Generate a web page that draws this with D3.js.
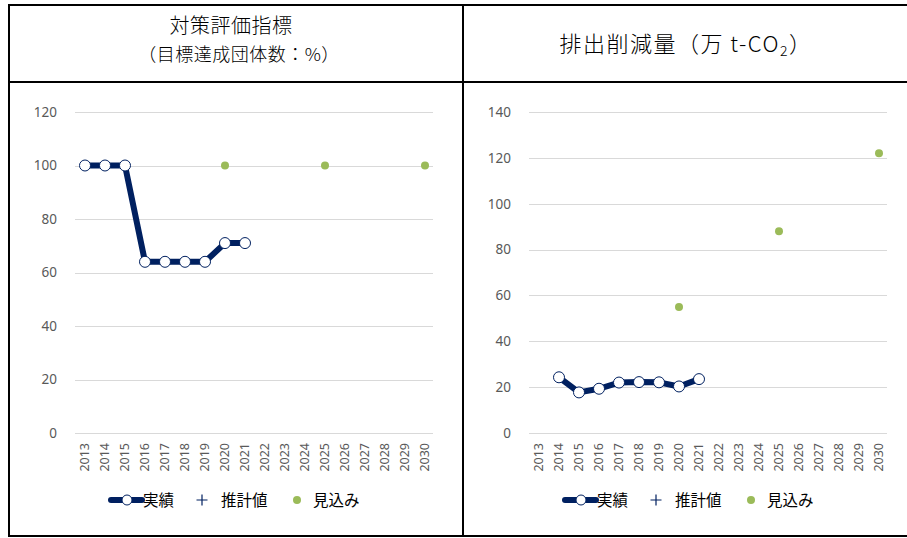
<!DOCTYPE html>
<html>
<head>
<meta charset="utf-8">
<script src="https://cdn.jsdelivr.net/npm/d3@7"></script>
<style>
  html, body { margin: 0; padding: 0; background: #fff; }
  svg { display: block; }
</style>
</head>
<body>
<svg id="chart" width="907" height="538"></svg>
<script>
// Shared category axis (fiscal years)
const years = ["2013","2014","2015","2016","2017","2018","2019","2020","2021","2022","2023","2024","2025","2026","2027","2028","2029","2030"];

// Left panel: 対策評価指標（目標達成団体数：%）
const leftTicks = [0, 20, 40, 60, 80, 100, 120];
const leftActualYears = ["2013","2014","2015","2016","2017","2018","2019","2020","2021"];
const leftActual = [100, 100, 100, 64, 64, 64, 64, 71, 71];
const leftOutlookYears = ["2020","2025","2030"];
const leftOutlook = [100, 100, 100];

// Right panel: 排出削減量（万 t-CO2）
const rightTicks = [0, 20, 40, 60, 80, 100, 120, 140];
const rightActualYears = ["2014","2015","2016","2017","2018","2019","2020","2021"];
const rightActual = [24.3, 17.7, 19.3, 22.0, 22.2, 22.1, 20.3, 23.5];
const rightOutlookYears = ["2020","2025","2030"];
const rightOutlook = [55, 88, 122];

const legendLabels = ["実績", "推計値", "見込み"];

const NAVY = "#002060";
const GREEN = "#9BBB59";
const GRID = "#d9d9d9";
const TICK_TEXT = "#595959";
const LATIN = "'Noto Sans', 'Open Sans', sans-serif";
const CJK = "'Noto Sans CJK JP', 'Noto Sans', sans-serif";

const svg = d3.select("#chart");

// Table frame
const frame = svg.append("g").attr("stroke", "#000").attr("stroke-width", 2);
frame.append("line").attr("x1", 9).attr("x2", 909).attr("y1", 5).attr("y2", 5);
frame.append("line").attr("x1", 9).attr("x2", 909).attr("y1", 82).attr("y2", 82);
frame.append("line").attr("x1", 9).attr("x2", 909).attr("y1", 536).attr("y2", 536);
frame.append("line").attr("x1", 9).attr("x2", 9).attr("y1", 4).attr("y2", 537);
frame.append("line").attr("x1", 463).attr("x2", 463).attr("y1", 4).attr("y2", 537);

// Header titles
svg.append("text").attr("x", 231).attr("y", 33).attr("text-anchor", "middle")
  .attr("font-family", CJK).attr("font-weight", 300).attr("font-size", 20)
  .attr("letter-spacing", 0.5).attr("fill", "#000")
  .text("対策評価指標");
svg.append("text").attr("x", 239).attr("y", 61).attr("text-anchor", "middle")
  .attr("font-family", CJK).attr("font-weight", 300).attr("font-size", 18)
  .attr("letter-spacing", 0.5).attr("fill", "#000")
  .text("（目標達成団体数：%）");
const rt = svg.append("text").attr("x", 686).attr("y", 52).attr("text-anchor", "middle")
  .attr("font-family", CJK).attr("font-weight", 300).attr("font-size", 22)
  .attr("letter-spacing", 1.5).attr("fill", "#000");
rt.append("tspan").text("排出削減量（万 t-CO");
rt.append("tspan").attr("font-size", 14).attr("dy", 4).text("2");
rt.append("tspan").attr("dy", -4).text("）");

function drawPanel(opt) {
  const g = svg.append("g");
  const x = d3.scaleBand().domain(years).range(opt.xRange).padding(0);
  const y = d3.scaleLinear().domain([0, d3.max(opt.ticks)]).range(opt.yRange);
  const cx = d => x(d) + x.bandwidth() / 2;

  // Horizontal gridlines
  g.append("g").selectAll("line").data(opt.ticks).join("line")
    .attr("x1", opt.xRange[0]).attr("x2", opt.xRange[1] - 2)
    .attr("y1", d => Math.round(y(d)) + 0.5).attr("y2", d => Math.round(y(d)) + 0.5)
    .attr("stroke", GRID).attr("stroke-width", 1);

  // Y axis labels
  const ya = g.append("g").attr("transform", `translate(${opt.xRange[0]},0)`)
    .call(d3.axisLeft(y).tickValues(opt.ticks).tickSize(0).tickPadding(opt.yPad));
  ya.select(".domain").remove();
  ya.selectAll("text").attr("font-family", LATIN).attr("font-size", 13.5).attr("fill", TICK_TEXT);

  // X axis labels (rotated)
  const xa = g.append("g").attr("transform", `translate(0,${opt.yRange[0]})`)
    .call(d3.axisBottom(x).tickSize(0).tickPadding(0));
  xa.select(".domain").remove();
  xa.selectAll("text")
    .attr("font-family", LATIN).attr("font-size", 12.5).attr("fill", TICK_TEXT)
    .attr("text-anchor", "end").attr("dy", "0.35em").attr("y", 0)
    .attr("transform", "translate(0,10) rotate(-90)");

  // Actual series: thick line with hollow markers
  const pts = opt.actualYears.map((yr, i) => [cx(yr), y(opt.actual[i])]);
  g.append("path").datum(pts)
    .attr("d", d3.line())
    .attr("fill", "none").attr("stroke", NAVY).attr("stroke-width", 6)
    .attr("stroke-linejoin", "round");
  g.append("g").selectAll("circle").data(pts).join("circle")
    .attr("cx", d => d[0]).attr("cy", d => d[1]).attr("r", 5.5)
    .attr("fill", "#fff").attr("stroke", NAVY).attr("stroke-width", 1);

  // Outlook series: green dots
  g.append("g").selectAll("circle").data(opt.outlookYears).join("circle")
    .attr("cx", d => cx(d)).attr("cy", (d, i) => y(opt.outlook[i])).attr("r", 4)
    .attr("fill", GREEN);

  // Legend
  const lg = g.append("g").attr("transform", `translate(${opt.legendX},500)`);
  lg.append("line").attr("x1", 0).attr("x2", 31).attr("y1", 0).attr("y2", 0)
    .attr("stroke", NAVY).attr("stroke-width", 6).attr("stroke-linecap", "round");
  lg.append("circle").attr("cx", 16).attr("cy", 0).attr("r", 5)
    .attr("fill", "#fff").attr("stroke", NAVY).attr("stroke-width", 1);
  lg.append("text").attr("x", 32).attr("y", 0).attr("dy", "0.36em")
    .attr("font-family", CJK).attr("font-size", 15.5).attr("fill", "#000").text(legendLabels[0]);
  lg.append("path").attr("d", "M91,-5.5V5.5M85.5,0H96.5")
    .attr("stroke", NAVY).attr("stroke-width", 1.2);
  lg.append("text").attr("x", 110).attr("y", 0).attr("dy", "0.36em")
    .attr("font-family", CJK).attr("font-size", 15.5).attr("fill", "#000").text(legendLabels[1]);
  lg.append("circle").attr("cx", 186).attr("cy", 0).attr("r", 4).attr("fill", GREEN);
  lg.append("text").attr("x", 202).attr("y", 0).attr("dy", "0.36em")
    .attr("font-family", CJK).attr("font-size", 15.5).attr("fill", "#000").text(legendLabels[2]);
}

drawPanel({
  xRange: [75, 435], yRange: [433, 112], ticks: leftTicks, yPad: 18,
  actualYears: leftActualYears, actual: leftActual,
  outlookYears: leftOutlookYears, outlook: leftOutlook,
  legendX: 111
});

drawPanel({
  xRange: [529, 889], yRange: [433, 112], ticks: rightTicks, yPad: 18,
  actualYears: rightActualYears, actual: rightActual,
  outlookYears: rightOutlookYears, outlook: rightOutlook,
  legendX: 565
});
</script>
</body>
</html>
